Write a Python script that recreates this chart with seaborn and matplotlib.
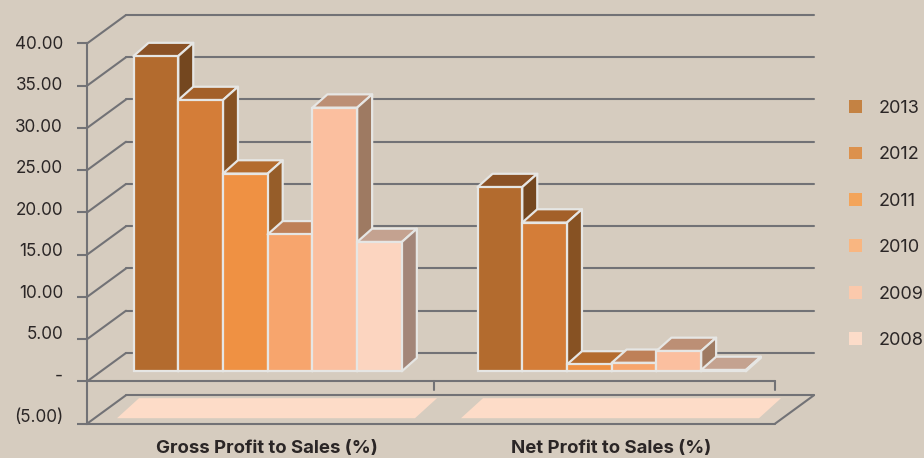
import matplotlib
matplotlib.use("Agg")
import matplotlib.pyplot as plt
from matplotlib.patches import Patch, Polygon
from matplotlib.transforms import ScaledTranslation
import pandas as pd
import seaborn as sns

# ---------- data ----------
metrics = ["Gross Profit to Sales (%)", "Net Profit to Sales (%)"]
years = ["2013", "2012", "2011", "2010", "2009", "2008"]
gross_values = [37.3, 32.1, 23.4, 16.2, 31.2, 15.3]
net_values = [21.8, 17.6, 0.8, 1.0, 2.4, 0.15]
tick_values = [-5, 0, 5, 10, 15, 20, 25, 30, 35, 40]
tick_labels = ["(5.00)", "-", "5.00", "10.00", "15.00", "20.00", "25.00", "30.00", "35.00", "40.00"]

# ---------- styles ----------
BG = "#D6CCBF"
GRID = "#727276"
EDGE = "#E6E6E4"
TEXT = "#2B2626"
front_colors = ["#B36B2E", "#D47D38", "#EF9143", "#F7A56D", "#FBBF9F", "#FCD5C0"]
top_colors = ["#8B5226", "#A36029", "#B36B2E", "#BE8058", "#BC8F75", "#C4A290"]
side_colors = ["#74471F", "#875223", "#965D29", "#A86F48", "#9E7A62", "#A38679"]
legend_colors = ["#C48243", "#DC914D", "#F3A45A", "#F9B681", "#FBC9AC", "#FCDCC9"]
STRIP = "#FDDCC8"

W, H, DPI = 924, 458, 100
AX_L, AX_R, AX_T, AX_B = 87, 775, 43.5, 423.7
YMIN, YMAX = -5, 40
PX_X = 2.0 / (AX_R - AX_L)      # categories per pixel
PX_Y = (YMAX - YMIN) / (AX_B - AX_T)  # value units per pixel

sns.set_theme(style="white")
plt.rcParams["font.family"] = ["Inter", "DejaVu Sans"]

fig = plt.figure(figsize=(W / DPI, H / DPI), dpi=DPI, facecolor=BG)
ax = fig.add_axes([AX_L / W, 1 - AX_B / H, (AX_R - AX_L) / W, (AX_B - AX_T) / H])
ax.set_facecolor("none")

df = pd.DataFrame({
    "metric": [m for m in metrics for _ in years],
    "year": years * 2,
    "value": gross_values + net_values,
})
sns.barplot(data=df, x="metric", y="value", hue="year", hue_order=years,
            order=metrics, palette=front_colors, width=0.78, gap=0,
            saturation=1, errorbar=None, legend=False, ax=ax)
ax.set_xlim(-0.5, 1.5)
ax.set_ylim(YMIN, YMAX)
ax.set_xlabel("")
ax.set_ylabel("")

# ---------- walls and floor ----------
WALL_DX, WALL_DY = 39 * PX_X, 28.5 * PX_Y
GRID_LW = 1.5
grid_kw = dict(color=GRID, lw=GRID_LW, clip_on=False, zorder=1, solid_capstyle="round")
for v in tick_values:
    ax.plot([-0.5 + WALL_DX, 1.5 + WALL_DX], [v + WALL_DY] * 2, **grid_kw)
    ax.plot([-0.5, -0.5 + WALL_DX], [v, v + WALL_DY], **grid_kw)
ax.plot([-0.5, 1.5], [0, 0], **grid_kw)
ax.plot([-0.5, 1.5], [YMIN, YMIN], **grid_kw)
ax.plot([1.5, 1.5 + WALL_DX], [YMIN, YMIN + WALL_DY], **grid_kw)
for cx in (0.51, 1.5):
    ax.plot([cx, cx], [0, -9 * PX_Y], **grid_kw)

# pink floor strips
STRIP_W = 298 * PX_X
STRIP_SHIFT = 7 * PX_X
for i in range(len(metrics)):
    x0 = i - STRIP_W / 2 + STRIP_SHIFT
    y0, y1 = YMIN + 5.5 * PX_Y, YMIN + 25.5 * PX_Y
    dx = 22 * PX_X
    ax.add_patch(Polygon([(x0, y0), (x0 + STRIP_W, y0), (x0 + STRIP_W + dx, y1), (x0 + dx, y1)],
                         closed=True, fc=STRIP, ec="none", clip_on=False, zorder=2))

# ---------- 3-D bars ----------
BAR_SHIFT_X, BAR_SHIFT_Y = 8.7 * PX_X, 10.2 * PX_Y
DEPTH_X, DEPTH_Y = 15 * PX_X, 13.3 * PX_Y
EDGE_LW = 1.6
z = 3
for hue_i, container in enumerate(ax.containers):
    for bar in container:
        bar.set_x(bar.get_x() + BAR_SHIFT_X)
        bar.set_y(bar.get_y() + BAR_SHIFT_Y)
# draw left to right within each group so that each bar covers the previous one
for cat_i in range(len(metrics)):
    for hue_i, container in enumerate(ax.containers):
        bar = container[cat_i]
        x0, x1 = bar.get_x(), bar.get_x() + bar.get_width()
        y0, y1 = bar.get_y(), bar.get_y() + bar.get_height()
        face_kw = dict(closed=True, ec=EDGE, lw=EDGE_LW, joinstyle="round", clip_on=False)
        ax.add_patch(Polygon([(x0, y1), (x1, y1), (x1 + DEPTH_X, y1 + DEPTH_Y), (x0 + DEPTH_X, y1 + DEPTH_Y)],
                             fc=top_colors[hue_i], zorder=z, **face_kw))
        ax.add_patch(Polygon([(x1, y0), (x1 + DEPTH_X, y0 + DEPTH_Y), (x1 + DEPTH_X, y1 + DEPTH_Y), (x1, y1)],
                             fc=side_colors[hue_i], zorder=z + 0.1, **face_kw))
        bar.set(edgecolor=EDGE, linewidth=EDGE_LW, zorder=z + 0.2, clip_on=False)
        z += 1

# ---------- axes ----------
for name in ("top", "right", "bottom"):
    ax.spines[name].set_visible(False)
ax.spines["left"].set_color(GRID)
ax.spines["left"].set_linewidth(GRID_LW)
ax.spines["left"].set_zorder(1)

ax.set_yticks(tick_values, tick_labels)
ax.tick_params(axis="y", left=True, length=7.2, width=GRID_LW, color=GRID, pad=10,
               labelsize=12.3, labelcolor=TEXT)
ax.set_xticks(range(len(metrics)), metrics)
ax.tick_params(axis="x", bottom=False, pad=6, labelsize=13.4)
fig.canvas.draw()
for v, lab in zip(tick_values, ax.get_yticklabels()):
    lift = 1 + (40 - v) * 0.15
    lab.set_transform(lab.get_transform() + ScaledTranslation(0, lift / DPI, fig.dpi_scale_trans))
for lab in ax.get_xticklabels():
    lab.set_fontweight("bold")
    lab.set_color(TEXT)
    lab.set_transform(lab.get_transform() + ScaledTranslation(8 / DPI, 0, fig.dpi_scale_trans))

# ---------- legend ----------
handles = [Patch(fc=c, ec="none", label=y) for c, y in zip(legend_colors, years)]
ax.legend(handles=handles, loc="center left", bbox_to_anchor=(849 / W, 1 - 224.5 / H),
          bbox_transform=fig.transFigure, frameon=False, handlelength=0.72, handleheight=0.72,
          handletextpad=0.9, labelspacing=1.63, fontsize=13, labelcolor=TEXT,
          borderpad=0, borderaxespad=0)

fig.savefig("out.png", dpi=DPI, facecolor=BG)
